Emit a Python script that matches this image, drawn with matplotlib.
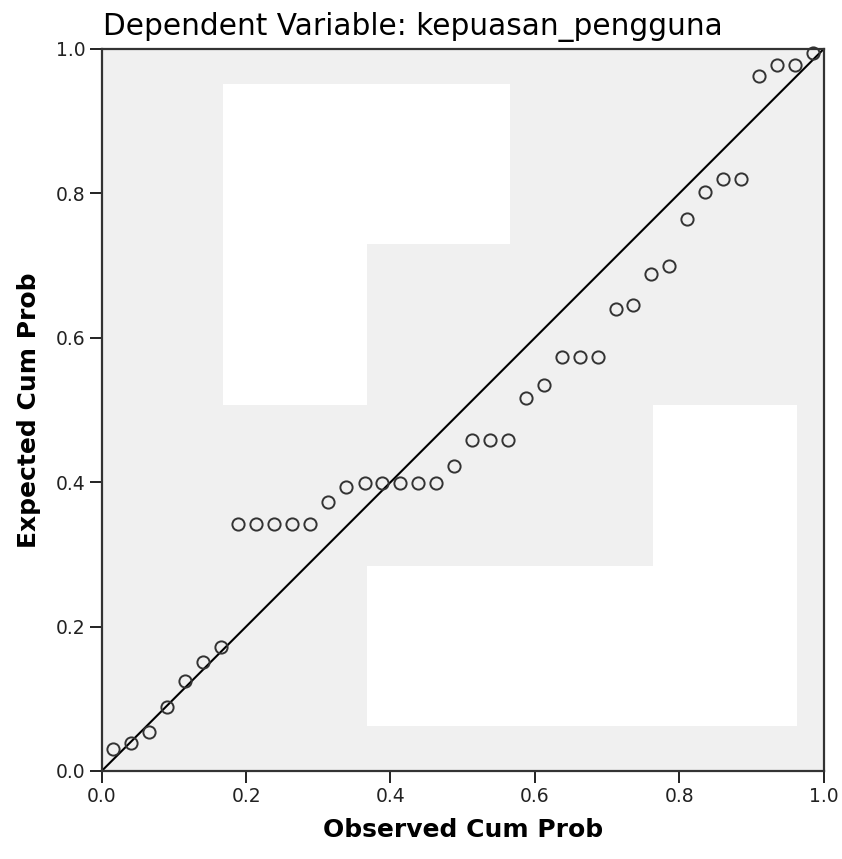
import matplotlib
matplotlib.use("Agg")
import matplotlib.pyplot as plt
from matplotlib.patches import Rectangle

# Data
observed = [0.016, 0.040, 0.065, 0.090, 0.115, 0.140, 0.165, 0.189, 0.214, 0.239,
            0.264, 0.289, 0.314, 0.339, 0.364, 0.388, 0.413, 0.438, 0.463, 0.488,
            0.513, 0.538, 0.563, 0.587, 0.612, 0.637, 0.662, 0.687, 0.712, 0.736,
            0.761, 0.786, 0.811, 0.836, 0.861, 0.886, 0.911, 0.935, 0.960, 0.985]
expected = [0.031, 0.039, 0.054, 0.088, 0.125, 0.151, 0.172, 0.342, 0.342, 0.342,
            0.342, 0.342, 0.373, 0.393, 0.399, 0.399, 0.399, 0.399, 0.399, 0.423,
            0.458, 0.458, 0.458, 0.516, 0.534, 0.574, 0.574, 0.574, 0.640, 0.645,
            0.688, 0.699, 0.765, 0.802, 0.820, 0.820, 0.962, 0.978, 0.978, 0.994]
ticks = [0.0, 0.2, 0.4, 0.6, 0.8, 1.0]
tick_labels = ["0.0", "0.2", "0.4", "0.6", "0.8", "1.0"]
# white blank regions visible in the reference plot area (x0, y0, x1, y1)
blank_regions = [(0.168, 0.730, 0.565, 0.952), (0.168, 0.507, 0.3675, 0.730),
                 (0.7636, 0.284, 0.963, 0.507), (0.3675, 0.063, 0.963, 0.284)]

W, H = 842, 859
fig = plt.figure(figsize=(W / 100, H / 100), dpi=100)
fig.patch.set_facecolor("white")
ax = fig.add_axes([101.7 / W, (H - 771) / H, 722 / W, 722 / H])
ax.set_facecolor("#F0F0F0")

for (x0, y0, x1, y1) in blank_regions:
    ax.add_patch(Rectangle((x0, y0), x1 - x0, y1 - y0, facecolor="white",
                           edgecolor="none", zorder=0.5))

ax.plot([0, 1], [0, 1], color="black", lw=1.5, zorder=2)
ax.plot(observed, expected, linestyle="none", marker="o", markersize=8.8,
        markerfacecolor="none", markeredgecolor="#333333", markeredgewidth=1.4,
        zorder=3, clip_on=False)

ax.set_xlim(0, 1)
ax.set_ylim(0, 1)
ax.set_xticks(ticks)
ax.set_xticklabels(tick_labels)
ax.set_yticks(ticks)
ax.set_yticklabels(tick_labels)
ax.tick_params(axis="both", direction="out", length=8.5, width=1.4,
               color="#222222", labelsize=13.5, pad=3, labelcolor="#222222")
for s in ax.spines.values():
    s.set_color("#333333")
    s.set_linewidth(1.6)

ax.set_xlabel("Observed Cum Prob", fontsize=18, fontweight="bold", labelpad=9)
ax.set_ylabel("Expected Cum Prob", fontsize=18, fontweight="bold", labelpad=11)
fig.text(103 / W, 1 - 35 / H, "Dependent Variable: kepuasan_pengguna",
         fontsize=21.3, ha="left", va="baseline", color="black")

fig.savefig("out.png", dpi=100, facecolor="white")
